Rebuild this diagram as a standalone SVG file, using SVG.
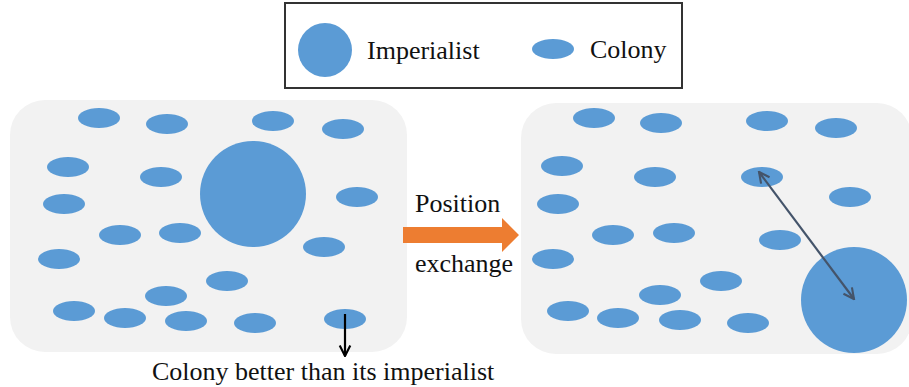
<svg xmlns="http://www.w3.org/2000/svg" width="909" height="387" viewBox="0 0 909 387">
<defs>
<style>
.t{font-family:"Liberation Serif","Times New Roman",serif;font-size:26px;fill:#111}
.c{fill:#5b9bd5}
.panel{fill:#f2f2f2}
</style>
<marker id="ah" viewBox="0 0 10 10" refX="9" refY="5" markerWidth="6" markerHeight="6" orient="auto-start-reverse"><path d="M1,1 L9,5 L1,9" fill="none" stroke="#44546a" stroke-width="1.6"/></marker>
<marker id="bh" viewBox="0 0 10 10" refX="9" refY="5" markerWidth="6" markerHeight="6" orient="auto"><path d="M1,1 L9,5 L1,9" fill="none" stroke="#000" stroke-width="1.6"/></marker>
</defs>
<rect width="909" height="387" fill="#fff"/>
<g id="legend">
<rect x="285" y="3" width="397" height="85" fill="#fff" stroke="#333" stroke-width="2"/>
<circle class="c" cx="325" cy="50" r="27"/>
<text class="t" x="367" y="59">Imperialist</text>
<ellipse class="c" cx="553" cy="49" rx="21" ry="10"/>
<text class="t" x="590" y="58">Colony</text>
</g>
<g id="left-panel">
<rect class="panel" x="10" y="100" width="397" height="252" rx="35"/>
<circle class="c" cx="253" cy="194" r="53"/>
<g class="c">
<ellipse cx="99" cy="118" rx="21" ry="10"/>
<ellipse cx="167" cy="124" rx="21" ry="10"/>
<ellipse cx="273" cy="121" rx="21" ry="10"/>
<ellipse cx="343" cy="129" rx="21" ry="10"/>
<ellipse cx="68" cy="167" rx="21" ry="10"/>
<ellipse cx="161" cy="177" rx="21" ry="10"/>
<ellipse cx="64" cy="204" rx="21" ry="10"/>
<ellipse cx="357" cy="197" rx="21" ry="10"/>
<ellipse cx="120" cy="235" rx="21" ry="10"/>
<ellipse cx="180" cy="233" rx="21" ry="10"/>
<ellipse cx="59" cy="259" rx="21" ry="10"/>
<ellipse cx="324" cy="247" rx="21" ry="10"/>
<ellipse cx="227" cy="281" rx="21" ry="10"/>
<ellipse cx="166" cy="296" rx="21" ry="10"/>
<ellipse cx="74" cy="311" rx="21" ry="10"/>
<ellipse cx="125" cy="318" rx="21" ry="10"/>
<ellipse cx="186" cy="321" rx="21" ry="10"/>
<ellipse cx="255" cy="323" rx="21" ry="10"/>
<ellipse cx="345" cy="319" rx="21" ry="10"/>
</g>
</g>
<g id="right-panel">
<rect class="panel" x="521" y="103" width="391" height="251" rx="35"/>
<circle class="c" cx="854" cy="300" r="53"/>
<g class="c">
<ellipse cx="594" cy="118" rx="21" ry="10"/>
<ellipse cx="661" cy="123" rx="21" ry="10"/>
<ellipse cx="767" cy="121" rx="21" ry="10"/>
<ellipse cx="836" cy="128" rx="21" ry="10"/>
<ellipse cx="562" cy="166" rx="21" ry="10"/>
<ellipse cx="655" cy="177" rx="21" ry="10"/>
<ellipse cx="762" cy="177" rx="21" ry="10"/>
<ellipse cx="558" cy="204" rx="21" ry="10"/>
<ellipse cx="850" cy="197" rx="21" ry="10"/>
<ellipse cx="613" cy="235" rx="21" ry="10"/>
<ellipse cx="674" cy="233" rx="21" ry="10"/>
<ellipse cx="780" cy="240" rx="21" ry="10"/>
<ellipse cx="553" cy="259" rx="21" ry="10"/>
<ellipse cx="721" cy="281" rx="21" ry="10"/>
<ellipse cx="660" cy="295" rx="21" ry="10"/>
<ellipse cx="568" cy="311" rx="21" ry="10"/>
<ellipse cx="618" cy="318" rx="21" ry="10"/>
<ellipse cx="680" cy="320" rx="21" ry="10"/>
<ellipse cx="748" cy="323" rx="21" ry="10"/>
</g>
</g>
<g id="transition">
<text class="t" x="415" y="212">Position</text>
<text class="t" x="415" y="272">exchange</text>
</g>
<g id="connectors">
<polygon points="403,227 502,227 502,218 519,235 502,252 502,243 403,243" fill="#ed7d31"/>
<line x1="759" y1="172" x2="854" y2="299" stroke="#44546a" stroke-width="2.2" marker-start="url(#ah)" marker-end="url(#ah)"/>
<line x1="345" y1="314" x2="345" y2="356" stroke="#000" stroke-width="2.2" marker-end="url(#bh)"/>
</g>
<text class="t" x="152" y="380">Colony better than its imperialist</text>
</svg>
